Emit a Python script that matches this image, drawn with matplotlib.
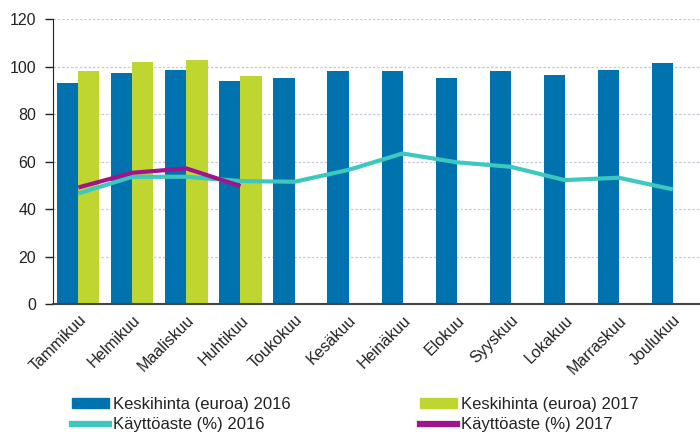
import matplotlib
matplotlib.use("Agg")
import matplotlib.pyplot as plt
import numpy as np
from matplotlib.patches import Patch
from matplotlib.lines import Line2D

plt.rcParams['font.family'] = ['Liberation Sans', 'DejaVu Sans']

months = ["Tammikuu", "Helmikuu", "Maaliskuu", "Huhtikuu", "Toukokuu", "Kesäkuu",
          "Heinäkuu", "Elokuu", "Syyskuu", "Lokakuu", "Marraskuu", "Joulukuu"]
price_2016 = [93.2, 97.1, 98.5, 93.9, 95.2, 98.0, 98.0, 95.2, 98.0, 96.4, 98.5, 101.3]
price_2017 = [98.0, 101.9, 102.6, 95.9]
occ_2016 = [46.6, 53.6, 53.6, 51.8, 51.5, 56.5, 63.4, 59.7, 57.8, 52.2, 53.2, 48.3]
occ_2017 = [49.1, 55.3, 57.1, 49.7]
yticks = [0, 20, 40, 60, 80, 100, 120]

c_blue = "#0072ae"
c_green = "#bed62f"
c_teal = "#3cc8be"
c_purple = "#a0148c"
txt = "#222222"

fig = plt.figure(figsize=(7, 4.32), dpi=100)
ax = fig.add_axes([0.0757, 0.296, 0.924, 0.66])

x = np.arange(len(months))
w = 0.39
ax.bar(x - w / 2, price_2016, w, color=c_blue, zorder=2)
ax.bar(x[:len(price_2017)] + w / 2, price_2017, w, color=c_green, zorder=2)
ax.plot(x, occ_2016, color=c_teal, lw=3, zorder=3, solid_capstyle='butt')
ax.plot(x[:len(occ_2017)], occ_2017, color=c_purple, lw=3, zorder=4, solid_capstyle='butt')

ax.set_ylim(0, 120)
ax.set_xlim(-0.47, 11.5)
ax.set_yticks(yticks)
ax.set_yticklabels([str(v) for v in yticks], fontsize=11.5, color=txt)
ax.set_xticks(x)
ax.set_xticklabels(months, rotation=45, ha='right', rotation_mode='anchor', fontsize=11.5, color=txt)
ax.tick_params(axis='x', length=0, pad=6)
ax.tick_params(axis='y', length=6, width=1, color='#222222', pad=6)
ax.grid(axis='y', color='#c8c8d8', linestyle=(0, (2, 1.5)), lw=0.9, zorder=0)
for s in ['top', 'right']:
    ax.spines[s].set_visible(False)
ax.spines['left'].set_color('#222222')
ax.spines['bottom'].set_color('#444444')
ax.spines['bottom'].set_linewidth(1.5)

leg_kw = dict(frameon=False, fontsize=12, handlelength=2.2, handleheight=0.55,
              handletextpad=0.25, labelspacing=0.3, borderpad=0, borderaxespad=0,
              labelcolor=txt)
h1 = [Patch(color=c_blue), Line2D([], [], color=c_teal, lw=4.5)]
l1 = ["Keskihinta (euroa) 2016", "Käyttöaste (%) 2016"]
h2 = [Patch(color=c_green), Line2D([], [], color=c_purple, lw=4.5)]
l2 = ["Keskihinta (euroa) 2017", "Käyttöaste (%) 2017"]
fig.legend(h1, l1, loc='upper left', bbox_to_anchor=(72 / 700, 1 - 397 / 432), **leg_kw)
fig.legend(h2, l2, loc='upper left', bbox_to_anchor=(420 / 700, 1 - 397 / 432), **leg_kw)

fig.savefig("out.png", dpi=100)
